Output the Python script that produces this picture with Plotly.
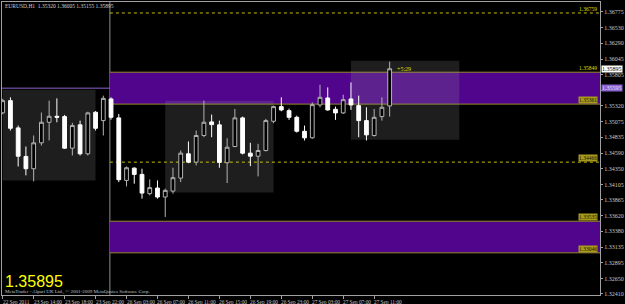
import plotly.graph_objects as go

# ---------------- data ----------------
bar_index = list(range(51))
open_ = [1.35213, 1.35402, 1.34980, 1.34538, 1.34348, 1.34749, 1.35067, 1.35160, 1.35155, 1.34666,
         1.35027, 1.34579, 1.35222, 1.35093, 1.35428, 1.35135, 1.34167, 1.34357, 1.34260, 1.33962,
         1.34049, 1.33910, 1.34002, 1.34203, 1.34579, 1.34450, 1.34862, 1.35073, 1.35027, 1.34440,
         1.34692, 1.35135, 1.34589, 1.34542, 1.34630, 1.35083, 1.35309, 1.35247, 1.35144, 1.34928,
         1.34826, 1.35335, 1.35443, 1.35268, 1.35212, 1.35428, 1.35325, 1.35093, 1.34862, 1.35155,
         1.35320]
high = [1.35430, 1.35453, 1.35016, 1.34692, 1.34862, 1.35217, 1.35402, 1.35437, 1.35181, 1.35058,
        1.35093, 1.35230, 1.35240, 1.35479, 1.35453, 1.35196, 1.34383, 1.34370, 1.34348, 1.34183,
        1.34167, 1.34039, 1.34363, 1.34630, 1.34770, 1.34939, 1.35402, 1.35186, 1.35093, 1.34820,
        1.35273, 1.35155, 1.34749, 1.34733, 1.35119, 1.35325, 1.35453, 1.35278, 1.35170, 1.35016,
        1.35376, 1.35649, 1.35607, 1.35309, 1.35494, 1.35684, 1.35479, 1.35299, 1.35273, 1.35453,
        1.36005]
low = [1.35190, 1.34939, 1.34383, 1.34245, 1.34152, 1.34707, 1.34785, 1.35067, 1.34656, 1.34553,
       1.34553, 1.34553, 1.34939, 1.34862, 1.35108, 1.34141, 1.34075, 1.34116, 1.33885, 1.33936,
       1.33885, 1.33601, 1.33962, 1.34141, 1.34434, 1.34399, 1.34836, 1.34836, 1.34363, 1.34126,
       1.34680, 1.34569, 1.34388, 1.34229, 1.34615, 1.35052, 1.35237, 1.35104, 1.34908, 1.34785,
       1.34811, 1.35299, 1.35247, 1.35104, 1.35196, 1.35258, 1.34836, 1.34785, 1.34846, 1.35093,
       1.35155]
close = [1.35402, 1.34974, 1.34542, 1.34348, 1.34749, 1.35067, 1.35160, 1.35145, 1.34666, 1.35016,
         1.34579, 1.35212, 1.34974, 1.35437, 1.35144, 1.34178, 1.34363, 1.34260, 1.33971, 1.34055,
         1.33910, 1.34013, 1.34209, 1.34589, 1.34450, 1.34862, 1.35067, 1.35031, 1.34445, 1.34681,
         1.35135, 1.34589, 1.34542, 1.34630, 1.35093, 1.35309, 1.35258, 1.35144, 1.34928, 1.34826,
         1.35340, 1.35453, 1.35258, 1.35212, 1.35417, 1.35335, 1.35093, 1.34872, 1.35144, 1.35299,
         1.35895]

time_tick_index = [0, 4, 8, 12, 16, 20, 24, 28, 32, 36, 40, 44, 48]
time_tick_labels = ["22 Sep 2011", "23 Sep 14:00", "23 Sep 18:00", "23 Sep 22:00", "26 Sep 03:00",
                    "26 Sep 07:00", "26 Sep 11:00", "26 Sep 15:00", "26 Sep 19:00", "26 Sep 23:00",
                    "27 Sep 03:00", "27 Sep 07:00", "27 Sep 11:00"]
price_ticks = [1.36775, 1.36530, 1.36290, 1.36045, 1.35805, 1.35560, 1.35320, 1.35075, 1.34835,
               1.34590, 1.34350, 1.34105, 1.33865, 1.33620, 1.33380, 1.33135, 1.32895, 1.32650, 1.32410]

# zones / levels
zone_hi = (1.35842, 1.35348)      # upper purple zone (top, bottom)
zone_lo = (1.33535, 1.33046)      # lower purple zone
zone_mid = 1.35595                 # mid line of upper zone
dotted_levels = [1.36759, 1.34450]
level_labels = [("1.36759", 1.36759, False), ("1.35849", 1.35842, False), ("1.35361", 1.35348, True),
                ("1.34466", 1.34450, True), ("1.33535", 1.33535, True), ("1.33046", 1.33046, True)]
# session boxes: (start bar, end bar, top price, bottom price)
sessions = [(0, 12, 1.35571, 1.34167), (21, 35, 1.35402, 1.33978), (45, 59, 1.36019, 1.34795)]
separator_bar = 13.85
last_price = 1.35895
header_text = "EURUSD,H1  1.35320 1.36005 1.35155 1.35895"

x_range = [-0.09, 77.18]
y_range = [1.32393, 1.36929]

# ---------------- figure ----------------
fig = go.Figure()
fig.add_trace(go.Candlestick(
    x=bar_index, open=open_, high=high, low=low, close=close,
    increasing=dict(line=dict(color="#b4b4b4", width=1), fillcolor="#000000"),
    decreasing=dict(line=dict(color="#ffffff", width=1), fillcolor="#ffffff"),
    whiskerwidth=0, showlegend=False, hoverinfo="skip"))

shapes = []
purple = "#50058c"
edge = "#968a2c"
for top, bot in (zone_hi, zone_lo):
    shapes.append(dict(type="rect", xref="x", yref="y", x0=separator_bar, x1=x_range[1], y0=bot, y1=top,
                       fillcolor=purple, line=dict(width=0), layer="below"))
    for p in (top, bot):
        shapes.append(dict(type="line", xref="x", yref="y", x0=separator_bar, x1=x_range[1], y0=p, y1=p,
                           line=dict(color=edge, width=1), layer="below"))
shapes.append(dict(type="line", xref="paper", yref="y", x0=0, x1=1, y0=zone_mid, y1=zone_mid,
                   line=dict(color="#8a62d0", width=1), layer="below"))
for s0, s1, t, b in sessions:
    shapes.append(dict(type="rect", xref="x", yref="y", x0=s0, x1=s1, y0=b, y1=t,
                       fillcolor="rgba(150,150,150,0.2)", line=dict(width=0), layer="below"))
for lv in dotted_levels:
    shapes.append(dict(type="line", xref="x", yref="y", x0=separator_bar, x1=x_range[1], y0=lv, y1=lv,
                       line=dict(color="#c8c000", width=1, dash="dot"), layer="below"))
shapes.append(dict(type="line", xref="x", yref="paper", x0=separator_bar, x1=separator_bar, y0=0, y1=1,
                   line=dict(color="#8c8c8c", width=1), layer="below"))

ann = []
tiny = "Liberation Sans Narrow"
for idx, lab in zip(time_tick_index, time_tick_labels):
    ann.append(dict(x=idx, y=-0.008, xref="x", yref="paper", text=lab, showarrow=False,
                    xanchor="left", yanchor="top", xshift=-2,
                    font=dict(family=tiny, size=5.3, color="#c8c8c8")))
for txt, p, boxed in level_labels:
    ann.append(dict(x=0.996, y=p, xref="paper", yref="y", text=txt, showarrow=False,
                    xanchor="right", yanchor="bottom", yshift=0,
                    bgcolor="#a89a1c" if boxed else None, borderpad=0,
                    font=dict(family=tiny, size=5.5, color="#101000" if boxed else "#e8d800")))
ann.append(dict(x=1.0, y=last_price, xref="paper", yref="y", text="1.35895", showarrow=False,
                xanchor="left", yanchor="middle", bgcolor="#ffffff", borderpad=0, xshift=1,
                font=dict(family=tiny, size=6, color="#000000")))
ann.append(dict(x=1.0, y=zone_mid, xref="paper", yref="y", text="1.35595", showarrow=False,
                xanchor="left", yanchor="middle", bgcolor="#8a62d0", borderpad=0, xshift=1,
                font=dict(family=tiny, size=6, color="#e0e0ff")))
ann.append(dict(x=50.7, y=last_price, xref="x", yref="y", text="+5:29", showarrow=False,
                xanchor="left", yanchor="middle",
                font=dict(family=tiny, size=6, color="#e8d800")))
ann.append(dict(x=0.002, y=0.9864, xref="paper", yref="paper", text=header_text, showarrow=False,
                xanchor="left", yanchor="middle",
                font=dict(family=tiny, size=5.5, color="#d0d0d0")))
ann.append(dict(x=0.002, y=0.046, xref="paper", yref="paper", text=f"{last_price:.5f}", showarrow=False,
                xanchor="left", yanchor="middle",
                font=dict(family="Liberation Sans", size=16, color="#ffff00")))
ann.append(dict(x=0.002, y=0.009, xref="paper", yref="paper",
                text="MetaTrader - Alpari UK Ltd., © 2001-2009 MetaQuotes Software Corp.", showarrow=False,
                xanchor="left", yanchor="middle",
                font=dict(family=tiny, size=5, color="#c0c0c0")))

tick_text = ["" if abs(v - zone_mid) < 0.0005 else f"{v:.5f}" for v in price_ticks]

fig.update_layout(
    width=625, height=304, margin=dict(l=2, r=18, t=1, b=9),
    paper_bgcolor="#000000", plot_bgcolor="#000000",
    shapes=shapes, annotations=ann, boxgap=0.3,
    xaxis=dict(range=x_range, rangeslider=dict(visible=False), showgrid=False, zeroline=False,
               tickvals=time_tick_index, ticks="outside", ticklen=3, tickcolor="#a0a0a0",
               showticklabels=False, showline=True, mirror=True, linecolor="#a0a0a0", linewidth=1),
    yaxis=dict(range=y_range, side="right", showgrid=False, zeroline=False,
               tickvals=price_ticks, ticktext=tick_text,
               ticks="outside", ticklen=2, tickcolor="#a0a0a0",
               tickfont=dict(family=tiny, size=6, color="#c8c8c8"),
               showline=True, mirror=True, linecolor="#a0a0a0", linewidth=1),
)

fig.write_html("out.html")
